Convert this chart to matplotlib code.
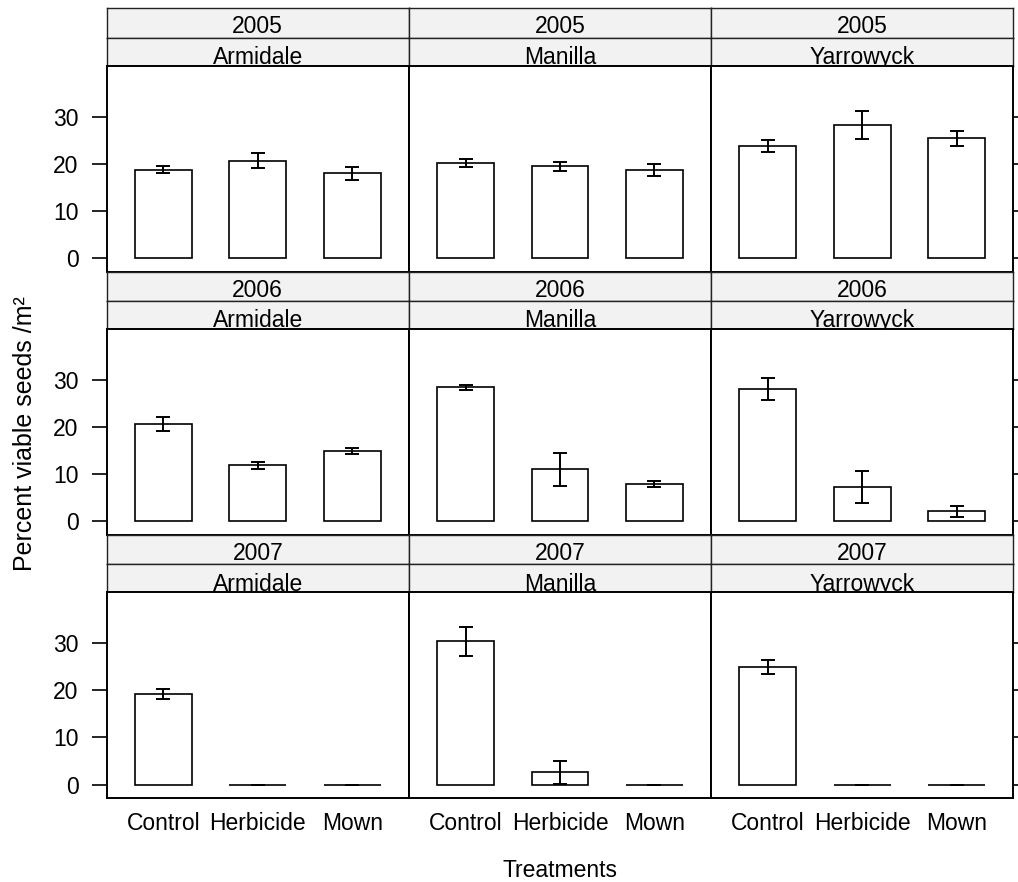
"""Seed viability by treatment, site and year (lattice-style bar panels)."""

import matplotlib

matplotlib.use("Agg")
import matplotlib.pyplot as plt

plt.rcParams["font.family"] = ["Liberation Sans", "DejaVu Sans"]
plt.rcParams["font.size"] = 16.5

years = ["2005", "2006", "2007"]
sites = ["Armidale", "Manilla", "Yarrowyck"]
treatments = ["Control", "Herbicide", "Mown"]

# per site: [Control, Herbicide, Mown]
mean_2005 = [[18.8, 20.7, 18.0], [20.2, 19.5, 18.7], [23.8, 28.2, 25.4]]
se_2005 = [[0.65, 1.6, 1.4], [0.8, 1.0, 1.2], [1.2, 2.9, 1.6]]
mean_2006 = [[20.7, 11.9, 14.9], [28.4, 11.1, 8.0], [28.1, 7.3, 2.2]]
se_2006 = [[1.5, 0.8, 0.6], [0.6, 3.5, 0.65], [2.35, 3.3, 1.15]]
mean_2007 = [[19.2, 0.0, 0.0], [30.4, 2.6, 0.0], [25.0, 0.0, 0.0]]
se_2007 = [[1.1, 0.0, 0.0], [3.1, 2.4, 0.0], [1.5, 0.0, 0.0]]

means = [mean_2005, mean_2006, mean_2007]
errors = [se_2005, se_2006, se_2007]
yticks = [0, 10, 20, 30]

W, H = 1018, 882
fig = plt.figure(figsize=(W / 100, H / 100), dpi=100)


def add_px_axes(x, y, w, h):
    # pixel box measured from the top-left corner
    return fig.add_axes([x / W, 1 - (y + h) / H, w / W, h / H])


left, col_w = 106.7, 302.2
top, row_h = 8.3, 263.2
strip1_h, strip2_h = 29.4, 28.0
panel_h = row_h - strip1_h - strip2_h
strip_bg = "#F2F2F2"
x = [1, 2, 3]

for r, year in enumerate(years):
    y0 = top + r * row_h
    for c, site in enumerate(sites):
        x0 = left + c * col_w

        for label, sy, sh, base in [
            (year, y0, strip1_h, 4.4),
            (site, y0 + strip1_h, strip2_h, 1.5),
        ]:
            sax = add_px_axes(x0, sy, col_w, sh)
            sax.set_facecolor(strip_bg)
            sax.set_xticks([])
            sax.set_yticks([])
            for spine in sax.spines.values():
                spine.set_linewidth(1.0)
                spine.set_color("#222222")
            sax.text(0.5, base / sh, label, ha="center", va="baseline",
                     transform=sax.transAxes)

        ax = add_px_axes(x0, y0 + strip1_h + strip2_h, col_w, panel_h)
        ax.bar(x, means[r][c], width=0.6, color="white", edgecolor="black",
               linewidth=1.2)
        ax.errorbar(x, means[r][c], yerr=errors[r][c], fmt="none",
                    ecolor="black", elinewidth=1.4, capsize=5, capthick=1.4)
        ax.set_xlim(0.4, 3.6)
        ax.set_ylim(-2.8, 40.8)
        for spine in ax.spines.values():
            spine.set_linewidth(1.4)

        ax.set_yticks(yticks)
        ax.tick_params(axis="y", direction="out", length=10.8, width=1.2,
                       pad=9.4, left=(c == 0), labelleft=(c == 0),
                       right=(c == 2), labelright=False)
        ax.set_xticks(x)
        if r == len(years) - 1:
            ax.set_xticklabels(treatments)
            ax.tick_params(axis="x", length=0, pad=10.5)
        else:
            ax.tick_params(axis="x", length=0, labelbottom=False)

fig.text(25 / W, 1 - 434 / H, "Percent viable seeds /m²", rotation=90,
         ha="center", va="center", fontsize=18)
fig.text(560 / W, 1 - 877 / H, "Treatments", ha="center", va="baseline")

fig.savefig("out.png", dpi=100)
